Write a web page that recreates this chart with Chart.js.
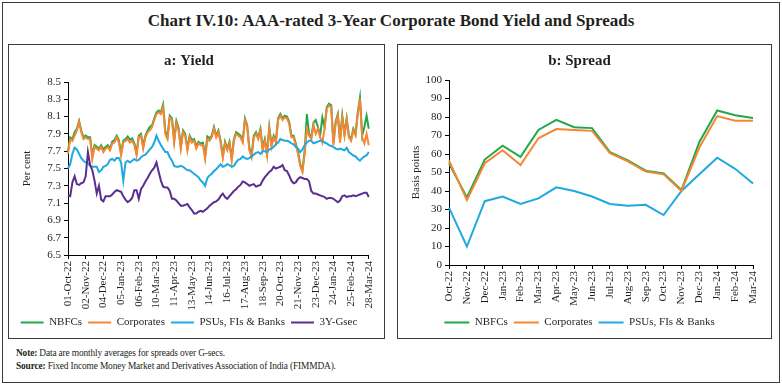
<!DOCTYPE html>
<html>
<head>
<meta charset="utf-8">
<script src="https://cdn.jsdelivr.net/npm/chart.js@4.4.1/dist/chart.umd.min.js"></script>
<style>
  body { margin: 0; background: #fff; font-family: "Liberation Serif", serif; color: #231f20; }
  #page { position: relative; width: 782px; height: 388px; }
  .frame { position: absolute; border: 1px solid #3a3a3a; box-sizing: border-box; }
  #outer { left: 2px; top: 2px; width: 778px; height: 381px; }
  #title { position: absolute; left: 0; top: 11px; width: 782px; text-align: center; font-weight: bold; font-size: 17px; }
  #p1 { left: 8px; top: 44px; width: 377px; height: 295px; }
  #p2 { left: 397px; top: 44px; width: 375px; height: 295px; }
  canvas { position: absolute; left: 0; top: 0; }
  #note { position: absolute; left: 16px; top: 347px; font-size: 9.4px; letter-spacing: -0.15px; line-height: 12.5px; }
</style>
</head>
<body>
<div id="page">
  <div class="frame" id="outer"></div>
  <div id="title">Chart IV.10: AAA-rated 3-Year Corporate Bond Yield and Spreads</div>
  <div class="frame" id="p1"><canvas id="yieldChart" width="375" height="293"></canvas></div>
  <div class="frame" id="p2"><canvas id="spreadChart" width="373" height="293"></canvas></div>
  <div id="note"><b>Note:</b> Data are monthly averages for spreads over G-secs.<br><b>Source:</b> Fixed Income Money Market and Derivatives Association of India (FIMMDA).</div>
</div>
<script>
// a: Yield -- readings every 4 days from 01-Oct-22 to 28-Mar-24 (per cent)
const yieldTicks = ['01-Oct-22', '02-Nov-22', '04-Dec-22', '05-Jan-23', '06-Feb-23', '10-Mar-23',
  '11-Apr-23', '13-May-23', '14-Jun-23', '16-Jul-23', '17-Aug-23', '18-Sep-23', '20-Oct-23',
  '21-Nov-23', '23-Dec-23', '24-Jan-24', '25-Feb-24', '28-Mar-24'];

const nbfcYield = [7.70,7.86,7.84,7.92,7.96,8.05,7.94,7.86,7.88,7.86,
  7.86,7.64,7.77,7.75,7.73,7.77,7.72,7.75,7.77,7.73,
  7.81,7.83,7.88,7.83,7.68,7.82,7.84,7.87,7.83,7.85,
  7.79,7.68,7.88,7.90,7.76,7.88,7.94,7.98,8.00,8.08,
  8.15,8.17,8.15,8.24,7.93,7.87,8.11,8.08,7.83,8.05,
  7.97,7.75,7.94,7.90,7.73,7.88,7.83,7.84,7.76,7.81,
  7.79,7.80,7.64,7.87,7.85,7.88,7.98,7.88,7.94,7.82,
  7.65,7.81,7.73,7.81,7.62,7.84,7.92,7.90,7.88,7.82,
  8.08,8.00,7.74,7.66,7.88,7.92,7.86,7.96,7.74,7.84,
  7.68,7.98,7.78,7.88,7.82,8.08,8.13,8.08,8.11,8.10,
  8.04,7.88,7.88,7.79,7.69,7.55,7.48,7.70,8.13,7.90,
  7.86,8.03,8.06,7.98,7.88,8.09,7.98,8.21,8.25,8.23,
  7.80,8.04,8.13,7.83,8.11,7.90,8.08,7.88,7.84,7.96,
  7.90,8.15,8.32,7.88,7.98,8.11,7.96];

const corpYield = [7.67,7.84,7.82,7.88,7.94,8.04,7.92,7.84,7.86,7.84,
  7.84,7.61,7.75,7.73,7.71,7.75,7.69,7.73,7.75,7.71,
  7.79,7.80,7.86,7.80,7.65,7.80,7.82,7.84,7.80,7.82,
  7.77,7.65,7.86,7.88,7.73,7.86,7.92,7.94,7.98,8.06,
  8.13,8.15,8.13,8.21,7.90,7.84,8.09,8.06,7.80,8.02,
  7.94,7.73,7.92,7.88,7.71,7.86,7.80,7.82,7.73,7.79,
  7.77,7.77,7.61,7.84,7.82,7.86,7.96,7.86,7.92,7.80,
  7.62,7.79,7.71,7.79,7.59,7.82,7.90,7.88,7.86,7.80,
  8.06,7.98,7.71,7.63,7.86,7.90,7.84,7.94,7.71,7.82,
  7.65,7.96,7.75,7.86,7.80,8.06,8.11,8.06,8.09,8.08,
  8.02,7.86,7.86,7.77,7.67,7.53,7.46,7.67,7.96,7.88,
  7.84,8.00,7.90,7.96,7.86,7.80,7.96,8.19,8.23,8.21,
  7.77,8.02,8.11,7.80,8.09,7.88,8.06,7.86,7.82,7.94,
  7.88,8.13,8.31,7.86,7.79,7.90,7.77];

const psuYield = [7.50,7.55,7.67,7.74,7.72,7.67,7.62,7.59,7.57,7.56,
  7.53,7.52,7.52,7.52,7.46,7.48,7.52,7.53,7.55,7.60,
  7.61,7.59,7.62,7.62,7.57,7.36,7.57,7.59,7.57,7.59,
  7.61,7.59,7.60,7.63,7.65,7.66,7.69,7.72,7.75,7.80,
  7.88,7.82,7.77,7.73,7.69,7.69,7.63,7.59,7.53,7.52,
  7.52,7.53,7.52,7.50,7.48,7.48,7.46,7.44,7.42,7.40,
  7.36,7.34,7.30,7.39,7.42,7.44,7.47,7.49,7.52,7.55,
  7.52,7.53,7.55,7.54,7.52,7.53,7.57,7.60,7.61,7.64,
  7.62,7.61,7.62,7.64,7.66,7.68,7.69,7.67,7.70,7.70,
  7.69,7.72,7.73,7.75,7.78,7.80,7.84,7.83,7.82,7.82,
  7.81,7.79,7.78,7.75,7.73,7.69,7.72,7.77,7.80,7.82,
  7.82,7.79,7.80,7.81,7.82,7.82,7.80,7.79,7.77,7.76,
  7.75,7.73,7.72,7.73,7.72,7.71,7.74,7.69,7.67,7.65,
  7.64,7.61,7.59,7.62,7.64,7.65,7.69];

const gsecYield = [7.19,7.18,7.34,7.41,7.32,7.31,7.33,7.34,7.41,7.69,
  7.54,7.48,7.36,7.21,7.30,7.14,7.12,7.18,7.18,7.18,
  7.20,7.23,7.25,7.24,7.23,7.18,7.14,7.11,7.13,7.16,
  7.25,7.25,7.15,7.26,7.30,7.35,7.39,7.44,7.48,7.51,
  7.57,7.46,7.36,7.29,7.28,7.28,7.24,7.15,7.15,7.13,
  7.10,7.07,7.07,7.08,7.09,7.05,7.02,6.98,6.98,7.00,
  7.01,7.00,7.02,7.04,7.07,7.09,7.11,7.12,7.14,7.18,
  7.21,7.17,7.15,7.18,7.21,7.24,7.26,7.29,7.31,7.35,
  7.34,7.32,7.30,7.31,7.32,7.29,7.30,7.31,7.36,7.40,
  7.43,7.46,7.48,7.52,7.50,7.51,7.52,7.54,7.48,7.47,
  7.42,7.36,7.33,7.34,7.38,7.40,7.39,7.38,7.38,7.35,
  7.24,7.21,7.21,7.20,7.19,7.18,7.17,7.15,7.16,7.16,
  7.15,7.13,7.11,7.13,7.18,7.19,7.17,7.18,7.18,7.19,
  7.18,7.19,7.20,7.21,7.22,7.22,7.17];

// b: Spread -- monthly averages (basis points)
const months = ['Oct-22', 'Nov-22', 'Dec-22', 'Jan-23', 'Feb-23', 'Mar-23', 'Apr-23', 'May-23', 'Jun-23',
  'Jul-23', 'Aug-23', 'Sep-23', 'Oct-23', 'Nov-23', 'Dec-23', 'Jan-24', 'Feb-24', 'Mar-24'];
const nbfcSpread = [55, 36.5, 57, 64.5, 58.5, 73, 78.5, 74.5, 74, 61, 56.5, 51, 49.5, 40.5, 66.5, 83.5, 81, 79.5];
const corpSpread = [56.5, 35, 55, 62, 54, 68.5, 73.5, 73, 72.5, 60.5, 56, 50.5, 49, 40, 63.5, 80.5, 78, 78];
const psuSpread = [31, 10, 34.5, 37, 33, 36, 42, 40, 37, 33, 32, 32.5, 27, 40, 49, 58, 52, 44];

const GREEN = '#22a84a', ORANGE = '#f58634', BLUE = '#1fa9e1', PURPLE = '#5b2d8e';
const INK = '#231f20';

// category labels for the daily series (one every 4 days)
const monNames = ['Jan','Feb','Mar','Apr','May','Jun','Jul','Aug','Sep','Oct','Nov','Dec'];
const yieldDates = [];
for (let d = 0; d < nbfcYield.length; d++) {
  const dt = new Date(Date.UTC(2022, 9, 1) + d * 4 * 86400000);
  yieldDates.push(String(dt.getUTCDate()).padStart(2, '0') + '-' + monNames[dt.getUTCMonth()] + '-' + String(dt.getUTCFullYear()).slice(2));
}

Chart.defaults.font.family = '"Liberation Serif", "Times New Roman", serif';
Chart.defaults.font.size = 11;
Chart.defaults.color = INK;
Chart.defaults.animation = false;

function line(label, data, color, order) {
  return { label: label, data: data, borderColor: color, backgroundColor: color,
    borderWidth: 2, pointRadius: 0, tension: 0, order: order };
}

const axisLine = { display: true, color: '#000', width: 1 };
const tickMarks = { drawOnChartArea: false, drawTicks: true, tickLength: 4, color: '#000' };

function legendOpts(w) {
  return {
    position: 'bottom',
    labels: { usePointStyle: true, pointStyle: 'line', pointStyleWidth: w, boxHeight: 11,
      padding: 6, color: INK, font: { size: 11 },
      sort: (a, b) => a.datasetIndex - b.datasetIndex }
  };
}

new Chart(document.getElementById('yieldChart'), {
  type: 'line',
  data: {
    labels: yieldDates,
    datasets: [
      line('NBFCs', nbfcYield, GREEN, 3),
      line('Corporates', corpYield, ORANGE, 2),
      line('PSUs, FIs & Banks', psuYield, BLUE, 1),
      line('3Y-Gsec', gsecYield, PURPLE, 0)
    ]
  },
  options: {
    responsive: false,
    layout: { padding: { left: 0, right: 15, top: 0, bottom: 0 } },
    plugins: {
      title: { display: true, text: 'a: Yield', color: INK, font: { size: 15, weight: 'bold' }, padding: { top: 7, bottom: 12 } },
      legend: legendOpts(23),
      tooltip: { enabled: false }
    },
    scales: {
      x: {
        border: axisLine, grid: tickMarks,
        ticks: { autoSkip: false, maxRotation: 90, minRotation: 90, padding: 2,
          callback: (v, i) => (i % 8 === 0 ? yieldTicks[i / 8] : null) },
        afterFit: s => { s.height = 56; }
      },
      y: {
        min: 6.5, max: 8.5,
        border: axisLine, grid: tickMarks,
        ticks: { stepSize: 0.2, autoSkip: false, padding: 3, callback: v => v.toFixed(1) },
        title: { display: true, text: 'Per cent', font: { size: 11 }, padding: { top: 12, bottom: 4 } },
        afterFit: s => { s.width = 59; }
      }
    }
  }
});

new Chart(document.getElementById('spreadChart'), {
  type: 'line',
  data: {
    labels: months,
    datasets: [
      line('NBFCs', nbfcSpread, GREEN, 1),
      line('Corporates', corpSpread, ORANGE, 0),
      line('PSUs, FIs & Banks', psuSpread, BLUE, 2)
    ]
  },
  options: {
    responsive: false,
    layout: { padding: { left: 8, right: 18, top: 0, bottom: 0 } },
    plugins: {
      title: { display: true, text: 'b: Spread', color: INK, font: { size: 15, weight: 'bold' }, padding: { top: 7, bottom: 10 } },
      legend: legendOpts(25),
      tooltip: { enabled: false }
    },
    scales: {
      x: {
        border: axisLine, grid: tickMarks,
        ticks: { autoSkip: false, maxRotation: 90, minRotation: 90, padding: 2 },
        afterFit: s => { s.height = 46; }
      },
      y: {
        min: 0, max: 100,
        border: axisLine, grid: tickMarks,
        ticks: { stepSize: 10, autoSkip: false, padding: 3 },
        title: { display: true, text: 'Basis points', font: { size: 11 } },
        afterFit: s => { s.width = 43; }
      }
    }
  }
});
</script>
</body>
</html>
